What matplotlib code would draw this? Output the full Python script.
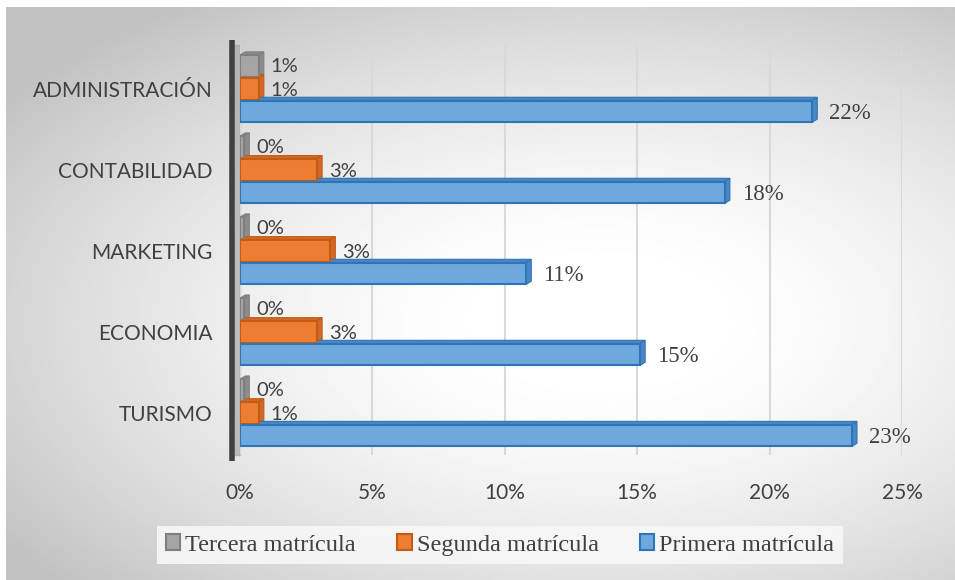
import numpy as np
import matplotlib.pyplot as plt
from matplotlib.patches import Polygon, Patch

# data (top to bottom)
categorias = ["ADMINISTRACIÓN", "CONTABILIDAD", "MARKETING", "ECONOMIA", "TURISMO"]
primera = [21.6, 18.3, 10.8, 15.1, 23.1]
segunda = [0.7, 2.9, 3.4, 2.9, 0.7]
tercera = [0.7, 0.15, 0.15, 0.15, 0.15]
series = ["Tercera matrícula", "Segunda matrícula", "Primera matrícula"]
xticks = [0, 5, 10, 15, 20, 25]

W, H = 955, 580
fig = plt.figure(figsize=(W / 100, H / 100), dpi=100)
fig.patch.set_facecolor("white")

# radial gradient background
bg = fig.add_axes([6 / W, 0, 1 - 6 / W, 1 - 7 / H])
yy, xx = np.mgrid[-1:1:300j, -1:1:500j]
r = np.sqrt(((xx - 0.25) * 0.75) ** 2 + ((yy - 0.1) * 0.85) ** 2)
r = np.clip((r - 0.15) / 1.0, 0, 1)
bg.imshow(1 - 0.24 * r ** 1.5, cmap="gray", vmin=0, vmax=1, aspect="auto",
          extent=[0, 1, 0, 1])
bg.set_axis_off()

ax = fig.add_axes([240 / W, (580 - 455) / H, 662 / W, 410 / H])
ax.set_facecolor("none")
ax.set_xlim(0, 25)
ax.set_ylim(-0.52, 4.54)

pos = np.arange(len(categorias))[::-1]
off = 0.28
h = 0.27

estilos = [
    (tercera, off, "#A5A5A5", "#7F7F7F", "#8C8C8C"),
    (segunda, 0, "#ED7D31", "#C55A11", "#D0692A"),
    (primera, -off, "#6FA8DC", "#2E75B6", "#4A86C5"),
]

dx = 0.2    # depth offset in x (data units)
dy = 0.04   # depth offset in y

for vals, o, fc, ec, sc in estilos:
    for p, v in zip(pos, vals):
        y0 = p + o - h / 2
        top = Polygon([(0, y0 + h), (v, y0 + h), (v + dx, y0 + h + dy), (dx, y0 + h + dy)],
                      closed=True, fc=sc, ec=ec, lw=0.8, zorder=2)
        side = Polygon([(v, y0), (v + dx, y0 + dy), (v + dx, y0 + h + dy), (v, y0 + h)],
                       closed=True, fc=sc, ec=ec, lw=0.8, zorder=2)
        ax.add_patch(top)
        ax.add_patch(side)
    ax.barh(pos + o, vals, height=h, color=fc, edgecolor=ec, linewidth=1.5, zorder=3)

# data labels
for p, v in zip(pos, primera):
    ax.text(v + 0.65, p - off - 0.02, "%d%%" % round(v), ha="left", va="center",
            fontsize=16.5, family="Liberation Serif", color="#404040")
for p, v in zip(pos, segunda):
    ax.text(v + 0.45, p - 0.02, "%d%%" % round(v), ha="left", va="center",
            fontsize=14.5, family="Lato", color="#404040")
for p, v in zip(pos, tercera):
    ax.text(v + 0.45, p + off, "%d%%" % round(v), ha="left", va="center",
            fontsize=14.5, family="Lato", color="#404040")

# back wall
ax.plot([-0.3, -0.3], [-0.6, 4.6], color="#404040", lw=4, clip_on=False,
        solid_capstyle="butt", zorder=4)
ax.axvspan(-0.3, 0, color="#A8A8A8", alpha=0.7, zorder=1, clip_on=False)

ax.set_xticks(xticks)
ax.set_xticklabels(["%d%%" % t for t in xticks], fontsize=15, color="#404040",
                   family="Lato")
ax.tick_params(axis="x", length=0, pad=20)
ax.set_yticks(pos)
ax.set_yticklabels(categorias, fontsize=15, color="#404040", family="Lato")
ax.tick_params(axis="y", length=0, pad=20)
ax.grid(axis="x", color="#D9D9D9", lw=1.5, zorder=0)
for s in ax.spines.values():
    s.set_visible(False)

# legend
handles = [Patch(fc=c, ec=e, lw=1.5) for _, _, c, e, _ in estilos]
leg = fig.legend(handles, series, loc="center", bbox_to_anchor=(500 / W, 1 - 545 / H),
                 ncol=3, frameon=True, fancybox=False, handlelength=0.6,
                 handleheight=0.6, handletextpad=0.2, columnspacing=1.7,
                 borderpad=0.35, prop={"family": "Liberation Serif", "size": 17.5})
leg.get_frame().set_facecolor("#F7F7F7")
leg.get_frame().set_edgecolor("none")
leg.get_frame().set_alpha(0.9)
for t in leg.get_texts():
    t.set_color("#404040")

fig.savefig("out.png", dpi=100)
